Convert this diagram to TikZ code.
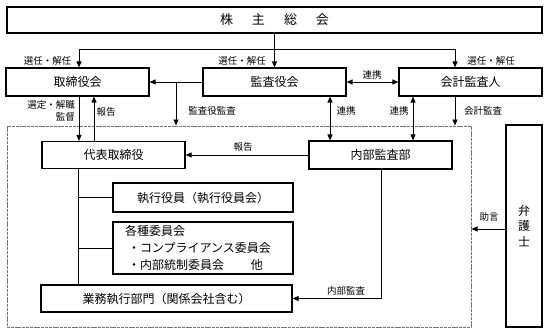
\documentclass[tikz,border=0pt]{standalone}
\usepackage{fontspec}
\setmainfont{Noto Sans CJK JP}
\usetikzlibrary{arrows.meta}
\begin{document}
\begin{tikzpicture}[x=1pt,y=-1pt,
 box/.style={draw,line width=1.2pt,inner sep=0pt,font=\fontsize{12}{14}\selectfont},
 lbl/.style={font=\fontsize{9.5}{11}\selectfont,inner sep=0pt},
 conn/.style={line width=0.9pt},
 arr/.style={conn,-{Triangle[length=6pt,width=5pt]}},
 darr/.style={conn,{Triangle[length=6pt,width=5pt]}-{Triangle[length=6pt,width=5pt]}},
 frm/.style={draw=black!55,line width=1pt,dash pattern=on 3pt off 0.8pt,inner sep=0pt}]
\useasboundingbox (0,0) rectangle (548,334);

% frame
\node[frm,minimum width=464pt,minimum height=201pt] (frame) at (239,226.5) {};

% boxes
\node[box,minimum width=535pt,minimum height=26pt,font=\fontsize{13}{15}\selectfont] (soukai) at (274.5,20) {株\hspace{19pt}主\hspace{19pt}総\hspace{19pt}会};
\node[box,minimum width=143pt,minimum height=28pt] (tori) at (77.5,82) {取締役会};
\node[box,minimum width=143pt,minimum height=28pt] (kansa) at (274.5,82) {監査役会};
\node[box,minimum width=143pt,minimum height=28pt] (kaikei) at (470.5,82) {会計監査人};
\node[box,minimum width=143pt,minimum height=27pt] (daihyo) at (113.5,155) {代表取締役};
\node[box,minimum width=143pt,minimum height=28pt] (naibu) at (380.5,155) {内部監査部};
\node[box,minimum width=180pt,minimum height=29pt] (shikko) at (203,197.5) {執行役員（執行役員会）};
\node[box,minimum width=180pt,minimum height=52pt,text width=156pt,inner xsep=12pt,align=left,font=\fontsize{12}{17}\selectfont] (iin) at (203,248) {各種委員会\\\hspace{3pt}・コンプライアンス委員会\\\hspace{3pt}・内部統制委員会\hspace{27pt}他};
\node[box,minimum width=251pt,minimum height=27pt] (gyomu) at (166.5,298.5) {業務執行部門（関係会社含む）};
\node[box,minimum width=36pt,minimum height=202pt,align=center,font=\fontsize{12}{15.5}\selectfont] (bengo) at (524,226) {弁\\護\\士};

% helper coordinates
\coordinate (j) at (274.5,49);
\coordinate (jL) at (79,49);
\coordinate (jR) at (455,49);
\coordinate (b1) at (176,82);
\coordinate (r1) at (330,0);
\coordinate (r2) at (413,0);
\coordinate (r3) at (455,0);
\coordinate (l1) at (79,0);
\coordinate (l2) at (94,0);
\coordinate (l3) at (78,0);
\coordinate (r4) at (381,0);
\coordinate (h) at (0,229);

% connectors
\draw[arr] (soukai.south) -- (kansa.north);
\draw[arr] (j) -| (tori.north -| jL);
\draw[arr] (j) -| (kaikei.north -| jR);
\draw[arr] (kansa.west) -- (tori.east);
\draw[arr] (b1) -- (b1 |- frame.north);
\draw[darr] (kansa.east) -- (kaikei.west);
\draw[darr] (kansa.south -| r1) -- (naibu.north -| r1);
\draw[darr] (kaikei.south -| r2) -- (naibu.north -| r2);
\draw[arr] (kaikei.south -| r3) -- (frame.north -| r3);
\draw[arr] (tori.south -| l1) -- (daihyo.north -| l1);
\draw[arr] (daihyo.north -| l2) -- (tori.south -| l2);
\draw[arr] (naibu.west) -- (daihyo.east);
\draw[conn] (daihyo.south -| l3) -- (gyomu.north -| l3);
\draw[conn] (shikko.west -| l3) -- (shikko.west);
\draw[conn] (iin.west -| l3) -- (iin.west);
\draw[arr] (naibu.south -| r4) |- (gyomu.east);
\draw[arr] (bengo.west |- h) -- (frame.east |- h);

% labels
\node[lbl] (t1) at (47.5,61) {選任・解任};
\node[lbl] (t2) at (242,61) {選任・解任};
\node[lbl] (t3) at (491,61) {選任・解任};
\node[lbl,anchor=east] (t4) at (75,105) {選定・解職};
\node[lbl,anchor=east] (t5) at (75,117) {監督};
\node[lbl] (t6) at (106,112) {報告};
\node[lbl] (t7) at (212,111) {監査役監査};
\node[lbl] (t8) at (372,75) {連携};
\node[lbl] (t9) at (346,111) {連携};
\node[lbl] (t10) at (399,111) {連携};
\node[lbl] (t11) at (483,111) {会計監査};
\node[lbl] (t12) at (243,147) {報告};
\node[lbl] (t13) at (346,291) {内部監査};
\node[lbl] (t14) at (489,217) {助言};
\end{tikzpicture}
\end{document}
